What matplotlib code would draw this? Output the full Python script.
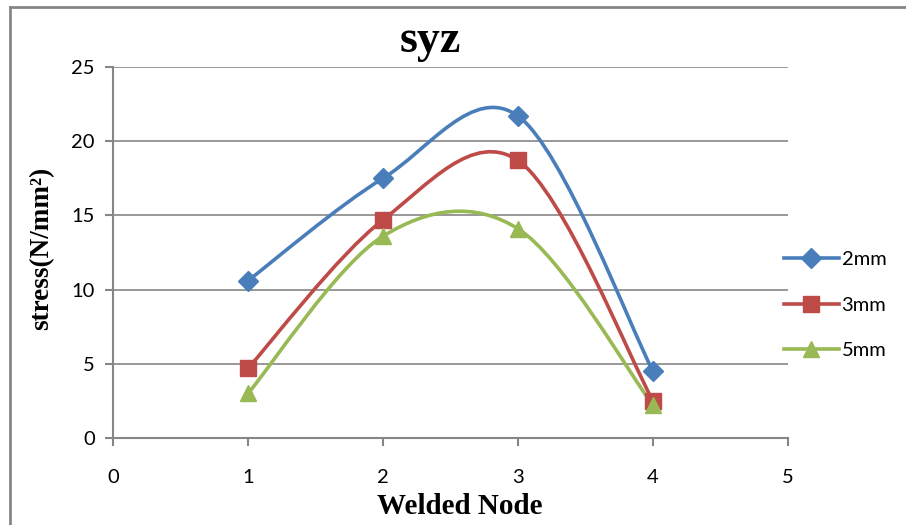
import numpy as np
import matplotlib
matplotlib.use("Agg")
import matplotlib.pyplot as plt
from matplotlib.path import Path
from matplotlib.patches import PathPatch
from matplotlib.lines import Line2D

# узлы сварки и напряжения для разной толщины
nodes = [1, 2, 3, 4]
s_2mm = [10.6, 17.5, 21.7, 4.5]
s_3mm = [4.7, 14.7, 18.7, 2.5]
s_5mm = [3.0, 13.6, 14.1, 2.2]
labels = ["2mm", "3mm", "5mm"]
colors = ["#4A7EBB", "#BE4B48", "#98B954"]
markers = ["D", "s", "^"]


def smooth_path(x, y):
    # сглаживание как в Excel: кривые Безье по соседним точкам
    pts = np.column_stack([x, y]).astype(float)
    n = len(pts)
    verts = [pts[0]]
    codes = [Path.MOVETO]
    for i in range(n - 1):
        p0 = pts[max(i - 1, 0)]
        p1 = pts[i]
        p2 = pts[i + 1]
        p3 = pts[min(i + 2, n - 1)]
        c1 = p1 + (p2 - p0) / 6.0
        c2 = p2 - (p3 - p1) / 6.0
        verts += [c1, c2, p2]
        codes += [Path.CURVE4] * 3
    return Path(verts, codes)


fig = plt.figure(figsize=(9.06, 5.25), dpi=100)
ax = fig.add_axes([113 / 906, 1 - 438 / 525, 675 / 906, 371 / 525])

grey = "#868686"
tick_font = "Lato"
serif = "Liberation Serif"

for vals, lab, col, mk in zip([s_2mm, s_3mm, s_5mm], labels, colors, markers):
    patch = PathPatch(smooth_path(nodes, vals), facecolor="none", edgecolor=col,
                      lw=2.6, capstyle="round", joinstyle="round", zorder=3)
    ax.add_patch(patch)
    ms = 10.5 if mk == "D" else 11.5
    ax.plot(nodes, vals, linestyle="none", marker=mk, markersize=ms, color=col,
            markeredgecolor=col, zorder=4)
    ax.plot([], [], color=col, lw=2.6, marker=mk, markersize=ms, label=lab)

ax.set_xlim(0, 5)
ax.set_ylim(0, 25)
ax.set_xticks(range(0, 6))
ax.set_yticks(range(0, 26, 5))
ax.yaxis.grid(True, color=grey, lw=1.2)
ax.set_axisbelow(True)
for s in ["top", "right"]:
    ax.spines[s].set_visible(False)
for s in ["left", "bottom"]:
    ax.spines[s].set_color(grey)
    ax.spines[s].set_linewidth(1.5)
ax.tick_params(axis="both", direction="out", length=6, width=1.5, color=grey,
               labelsize=14.5)
ax.tick_params(axis="x", pad=16)
ax.tick_params(axis="y", pad=7)
for t in ax.get_xticklabels() + ax.get_yticklabels():
    t.set_fontfamily(tick_font)

fig.text(430 / 906, 1 - 52 / 525, "syz", fontsize=33, fontweight="bold",
         family=serif, ha="center", va="baseline")
fig.text(460 / 906, 1 - 507 / 525, "Welded Node", fontsize=21, fontweight="bold",
         family=serif, ha="center", va="center")
fig.text(42 / 906, 1 - 248 / 525, "stress(N/mm²)", fontsize=19.5, fontweight="bold",
         family=serif, ha="center", va="center", rotation=90)

leg = fig.legend(loc="center left", bbox_to_anchor=(766 / 906, 1 - 305 / 525),
                 frameon=False, handlelength=2.7, handletextpad=0.15,
                 labelspacing=1.4, prop={"family": tick_font, "size": 14.5})

# рамка области диаграммы
fig.add_artist(Line2D([10 / 906, 1], [1 - 7 / 525, 1 - 7 / 525], color=grey, lw=2))
fig.add_artist(Line2D([10 / 906, 10 / 906], [0, 1 - 7 / 525], color=grey, lw=2))

fig.savefig("out.png", dpi=100)
